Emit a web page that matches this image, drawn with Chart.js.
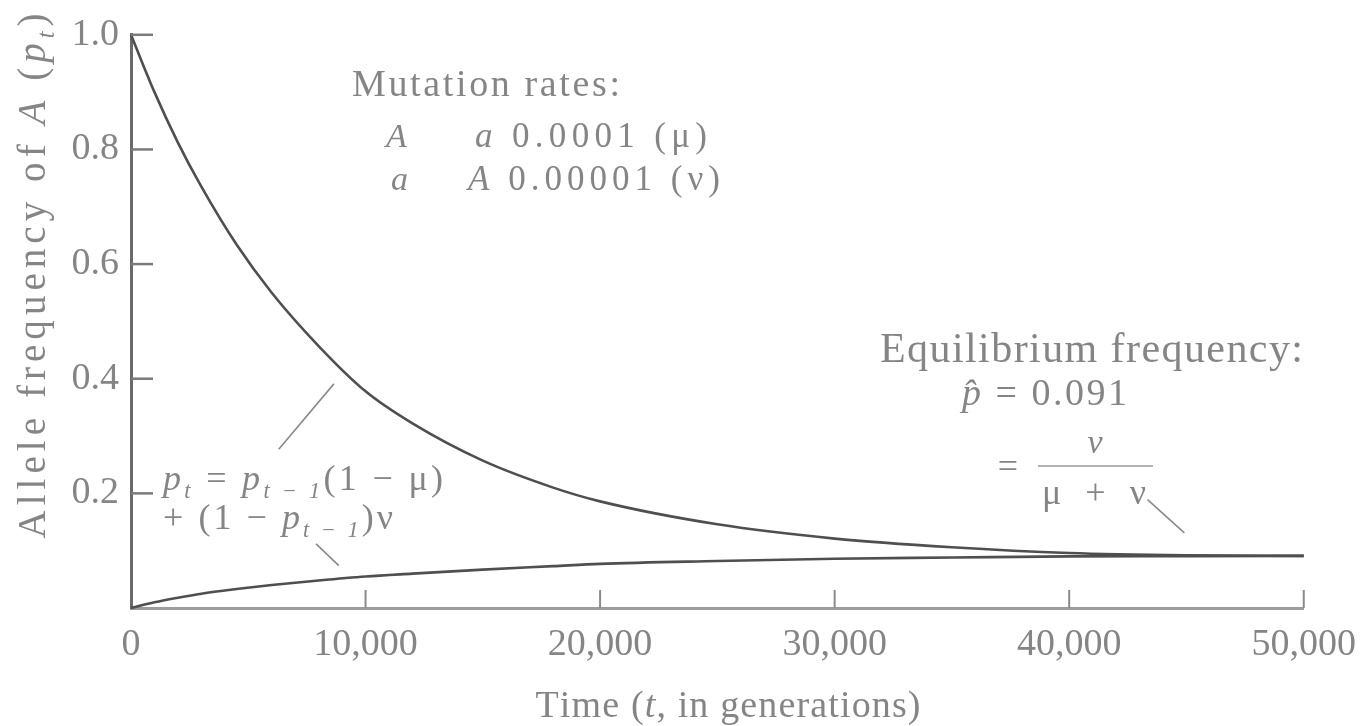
<!DOCTYPE html>
<html>
<head>
<meta charset="utf-8">
<script src="https://cdn.jsdelivr.net/npm/chart.js@4.4.1/dist/chart.umd.min.js"></script>
<style>
  html, body { margin: 0; padding: 0; background: #ffffff; }
  #wrap { width: 1370px; height: 726px; position: relative; }
</style>
</head>
<body>
<div id="wrap"><canvas id="chart" width="1370" height="726"></canvas></div>
<script>
// Time axis (generations) at which the allele frequency is sampled
const generations = [0, 1000, 2000, 3000, 4500, 6000, 8000, 10000, 12000, 15000, 18000, 20000, 25000, 30000, 35000, 40000, 45000, 50000];
// Frequency of A starting from fixation (p0 = 1)
const freqFromFixed = [1.0, 0.90, 0.812, 0.735, 0.634, 0.55, 0.457, 0.378, 0.322, 0.257, 0.21, 0.186, 0.146, 0.121, 0.106, 0.096, 0.092, 0.091];
// Frequency of A starting from loss (p0 = 0)
const freqFromLost = [0.0, 0.01, 0.018, 0.025, 0.033, 0.04, 0.048, 0.055, 0.06, 0.067, 0.073, 0.077, 0.082, 0.086, 0.088, 0.09, 0.0905, 0.091];

// Axis ticks
const xTickValues = [0, 10000, 20000, 30000, 40000, 50000];
const xTickLabels = ['0', '10,000', '20,000', '30,000', '40,000', '50,000'];
const yTickValues = [0.2, 0.4, 0.6, 0.8, 1.0];
const yTickLabels = ['0.2', '0.4', '0.6', '0.8', '1.0'];

// Equilibrium frequency stated in the annotation
const equilibrium = 0.091;

const SERIF = '"Liberation Serif", "Times New Roman", serif';
const TEXT = '#858585';
const LINE = '#4f4f4f';

// ---- rich text helpers (italic runs, subscripts, stretched spacing) ----
function clusters(s) {
  const out = [];
  for (const ch of s) {
    if (/[\u0300-\u036f]/.test(ch) && out.length) out[out.length - 1] += ch;
    else out.push(ch);
  }
  return out;
}
function layoutRuns(ctx, runs, size) {
  const glyphs = [];
  for (const r of runs) {
    const fs = r.sub ? size * 0.62 : size;
    const font = (r.it ? 'italic ' : '') + fs + 'px ' + SERIF;
    ctx.font = font;
    for (const c of clusters(r.t)) {
      glyphs.push({ c, font, w: ctx.measureText(c).width, dy: r.sub ? size * 0.22 : 0 });
    }
  }
  return glyphs;
}
function drawRich(ctx, runs, x, y, size, opt) {
  opt = opt || {};
  const g = layoutRuns(ctx, runs, size);
  const nat = g.reduce((a, b) => a + b.w, 0);
  let gap = 0;
  if (opt.width && g.length > 1) gap = (opt.width - nat) / (g.length - 1);
  const total = nat + gap * (g.length - 1);
  let cx = opt.align === 'center' ? x - total / 2 : (opt.align === 'right' ? x - total : x);
  ctx.textAlign = 'left';
  ctx.textBaseline = 'alphabetic';
  for (const k of g) {
    ctx.font = k.font;
    ctx.fillText(k.c, cx, y + k.dy);
    cx += k.w + gap;
  }
}

// Annotation texts
const mutationTitle = [{ t: 'Mutation rates:' }];
const mutationRowA = { from: [{ t: 'A', it: true }], to: [{ t: 'a', it: true }, { t: ' 0.0001 (μ)' }] };
const mutationRowB = { from: [{ t: 'a', it: true }], to: [{ t: 'A', it: true }, { t: ' 0.00001 (ν)' }] };
const recursionLine1 = [{ t: 'p', it: true }, { t: 't', it: true, sub: true }, { t: ' = ' }, { t: 'p', it: true }, { t: 't − 1', it: true, sub: true }, { t: '(1 − μ)' }];
const recursionLine2 = [{ t: '+ (1 − ' }, { t: 'p', it: true }, { t: 't − 1', it: true, sub: true }, { t: ')ν' }];
const eqTitle = [{ t: 'Equilibrium frequency:' }];
const eqValue = [{ t: 'p̂', it: true }, { t: ' = ' + equilibrium.toFixed(3) }];
const yTitle = [{ t: 'Allele frequency of ' }, { t: 'A', it: true }, { t: ' (' }, { t: 'p', it: true }, { t: 't', it: true, sub: true }, { t: ')' }];
const xTitle = [{ t: 'Time (' }, { t: 't', it: true }, { t: ', in generations)' }];

// Leader lines, given in data units [generation, frequency]
const leaderUpper = [[6300, 0.277], [8650, 0.391]];
const leaderLower = [[7890, 0.112], [8860, 0.074]];
const leaderEquilibrium = [[43340, 0.189], [44910, 0.131]];

const decorations = {
  id: 'decorations',
  afterDraw(chart) {
    const ctx = chart.ctx;
    const xs = chart.scales.x, ys = chart.scales.y;
    const area = chart.chartArea;
    const P = (d) => [xs.getPixelForValue(d[0]), ys.getPixelForValue(d[1])];
    ctx.save();

    // inward tick marks
    ctx.strokeStyle = '#7a7a7a';
    ctx.lineWidth = 2.5;
    for (const v of yTickValues) {
      const py = ys.getPixelForValue(v);
      ctx.beginPath(); ctx.moveTo(area.left, py); ctx.lineTo(area.left + 22, py); ctx.stroke();
    }
    ctx.strokeStyle = '#8a8a8a';
    ctx.lineWidth = 2;
    for (const v of xTickValues) {
      if (v === 0) continue;
      const px = xs.getPixelForValue(v);
      ctx.beginPath(); ctx.moveTo(px, area.bottom); ctx.lineTo(px, area.bottom - 18); ctx.stroke();
    }

    // leader lines
    ctx.strokeStyle = '#8a8a8a';
    ctx.lineWidth = 1.6;
    for (const seg of [leaderUpper, leaderLower, leaderEquilibrium]) {
      const a = P(seg[0]), b = P(seg[1]);
      ctx.beginPath(); ctx.moveTo(a[0], a[1]); ctx.lineTo(b[0], b[1]); ctx.stroke();
    }

    ctx.fillStyle = TEXT;
    // mutation rates block
    drawRich(ctx, mutationTitle, 352, 96, 38, { width: 268 });
    drawRich(ctx, mutationRowA.from, 386, 147, 34);
    drawRich(ctx, mutationRowA.to, 475, 147, 35, { width: 232 });
    drawRich(ctx, mutationRowB.from, 391, 190, 34);
    drawRich(ctx, mutationRowB.to, 468, 190, 35, { width: 252 });

    // recursion
    drawRich(ctx, recursionLine1, 163, 490, 36, { width: 280 });
    drawRich(ctx, recursionLine2, 163, 529, 36, { width: 230 });

    // equilibrium block
    drawRich(ctx, eqTitle, 880, 362, 42, { width: 423 });
    drawRich(ctx, eqValue, 962, 405, 38, { width: 165 });
    drawRich(ctx, [{ t: '=' }], 1008, 478, 36, { align: 'center' });
    drawRich(ctx, [{ t: 'ν', it: true }], 1095, 453, 34, { align: 'center' });
    drawRich(ctx, [{ t: 'μ + ν' }], 1042, 504, 36, { width: 104 });
    ctx.strokeStyle = '#9a9a9a';
    ctx.lineWidth = 1.6;
    ctx.beginPath(); ctx.moveTo(1038, 466); ctx.lineTo(1153, 466); ctx.stroke();

    // axis titles
    drawRich(ctx, xTitle, 728, 717, 38, { align: 'center', width: 385 });
    ctx.save();
    ctx.translate(32, 276);
    ctx.rotate(-Math.PI / 2);
    drawRich(ctx, yTitle, 0, 13, 39, { align: 'center', width: 525 });
    ctx.restore();

    ctx.restore();
  }
};

const toPoints = (ys) => generations.map((g, i) => ({ x: g, y: ys[i] }));

new Chart(document.getElementById('chart'), {
  type: 'line',
  data: {
    datasets: [
      { label: 'p0 = 1', data: toPoints(freqFromFixed), borderColor: LINE, borderWidth: 2.6, pointRadius: 0, cubicInterpolationMode: 'monotone', clip: 6 },
      { label: 'p0 = 0', data: toPoints(freqFromLost), borderColor: LINE, borderWidth: 2.6, pointRadius: 0, cubicInterpolationMode: 'monotone', clip: 6 }
    ]
  },
  options: {
    responsive: false,
    animation: false,
    devicePixelRatio: 1,
    layout: { padding: { top: 27, right: 60, left: 0, bottom: 0 } },
    plugins: { legend: { display: false }, tooltip: { enabled: false } },
    scales: {
      x: {
        type: 'linear', min: 0, max: 50000,
        afterBuildTicks: (s) => { s.ticks = xTickValues.map(v => ({ value: v })); },
        afterFit: (s) => { s.height = 118; },
        ticks: {
          autoSkip: false, maxRotation: 0, padding: 14,
          callback: (v) => xTickLabels[xTickValues.indexOf(v)],
          font: { family: SERIF, size: 38 }, color: TEXT
        },
        grid: { drawOnChartArea: false, drawTicks: false },
        border: { display: true, color: '#9c9c9c', width: 3 }
      },
      y: {
        type: 'linear', min: 0, max: 1,
        afterBuildTicks: (s) => { s.ticks = [0].concat(yTickValues).map(v => ({ value: v })); },
        afterFit: (s) => { s.width = 131; },
        ticks: {
          padding: 12,
          callback: (v) => { const i = yTickValues.indexOf(v); return i < 0 ? '' : yTickLabels[i]; },
          font: { family: SERIF, size: 38 }, color: TEXT
        },
        grid: { drawOnChartArea: false, drawTicks: false },
        border: { display: true, color: '#6a6a6a', width: 3 }
      }
    }
  },
  plugins: [decorations]
});
</script>
</body>
</html>
